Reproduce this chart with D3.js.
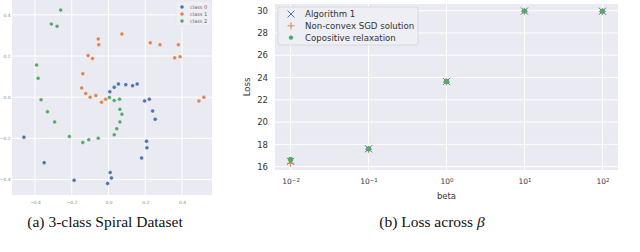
<!DOCTYPE html>
<html lang="en">
<head>
<meta charset="UTF-8">
<title>Spiral dataset and loss across beta</title>
<script src="https://d3js.org/d3.v7.min.js"></script>
<style>
    body { margin: 0; padding: 0; background: #fff; }
    svg { display: block; }
    .tick text { font-family: "DejaVu Sans", sans-serif; }
    .caption { font-family: "Liberation Serif", "Times New Roman", serif; font-size: 15.5px; fill: #111; }
</style>
</head>
<body>
<svg id="fig" width="640" height="252"></svg>
<script>
// ---- left panel: 3-class spiral dataset ----
const class0 = [
    [-0.46, -0.194], [-0.35, -0.318], [-0.187, -0.403], [-0.005, -0.419], [0.016, -0.392],
    [0.009, -0.366], [0.18, -0.295], [0.209, -0.246], [0.207, -0.214], [0.254, -0.107],
    [0.24, -0.067], [0.222, -0.01], [0.196, -0.018], [0.156, 0.064], [0.131, 0.056],
    [0.094, 0.061], [0.054, 0.064], [0.031, 0.048], [0.007, 0.026]
];
const class1 = [
    [0.073, 0.307], [-0.056, 0.283], [-0.053, 0.255], [-0.111, 0.202], [-0.087, 0.188],
    [-0.14, 0.114], [-0.146, 0.045], [-0.124, 0.018], [-0.1, 0.0], [-0.069, 0.008],
    [-0.038, -0.024], [-0.016, -0.01], [0.227, 0.264], [0.28, 0.255], [0.38, 0.255],
    [0.36, 0.191], [0.389, 0.196], [0.492, -0.019], [0.519, 0.0]
];
const class2 = [
    [-0.26, 0.423], [-0.311, 0.355], [-0.28, 0.344], [-0.391, 0.156], [-0.383, 0.092],
    [-0.367, -0.013], [-0.332, -0.071], [-0.293, -0.12], [-0.213, -0.191], [-0.14, -0.22],
    [-0.107, -0.207], [-0.056, -0.199], [0.031, -0.183], [0.045, -0.153], [0.062, -0.12],
    [0.073, -0.083], [0.062, -0.059], [0.06, -0.01], [0.031, -0.016], [0.005, -0.001]
];
const spiralTicks = [-0.4, -0.2, 0.0, 0.2, 0.4];
const classNames = ["class 0", "class 1", "class 2"];

// ---- right panel: loss across beta ----
const betas = [0.01, 0.1, 1, 10, 100];
const lossAlgo1 = [16.48, 17.6, 23.65, 29.97, 29.95];
const lossSGD = [16.3, 17.55, 23.6, 29.95, 29.93];
const lossCopos = [16.65, 17.6, 23.65, 29.97, 29.95];
const lossTicks = [16, 18, 20, 22, 24, 26, 28, 30];
const betaTicks = [-2, -1, 0, 1, 2];
const seriesNames = ["Algorithm 1", "Non-convex SGD solution", "Copositive relaxation"];

const colors = ["#4c72b0", "#dd8452", "#55a868"];
const bg = "#eaeaf2";

const svg = d3.select("#fig");

// ================= left panel =================
const L = { left: 12, right: 212, top: 0, bottom: 195 };
const xs = d3.scaleLinear().domain([-0.525, 0.563]).range([L.left, L.right]);
const ys = d3.scaleLinear().domain([-0.475, 0.472]).range([L.bottom, L.top]);

const gl = svg.append("g");
gl.append("rect")
    .attr("x", L.left).attr("y", L.top)
    .attr("width", L.right - L.left).attr("height", L.bottom - L.top)
    .attr("fill", bg);

// grid
gl.selectAll(".vg").data(spiralTicks).enter().append("line")
    .attr("x1", d => xs(d)).attr("x2", d => xs(d))
    .attr("y1", L.top).attr("y2", L.bottom)
    .attr("stroke", "#fff").attr("stroke-width", 1);
gl.selectAll(".hg").data(spiralTicks).enter().append("line")
    .attr("y1", d => ys(d)).attr("y2", d => ys(d))
    .attr("x1", L.left).attr("x2", L.right)
    .attr("stroke", "#fff").attr("stroke-width", 1);

// axes (tiny labels, no lines)
const xAxL = gl.append("g").attr("transform", `translate(0,${L.bottom})`)
    .call(d3.axisBottom(xs).tickValues(spiralTicks).tickSize(0).tickPadding(6).tickFormat(d3.format(".1f")));
const yAxL = gl.append("g").attr("transform", `translate(${L.left},0)`)
    .call(d3.axisLeft(ys).tickValues(spiralTicks).tickSize(0).tickPadding(1.5).tickFormat(d3.format(".1f")));
[xAxL, yAxL].forEach(a => {
    a.select(".domain").remove();
    a.selectAll("text").style("font-size", "4.4px").attr("fill", "#888");
});

// points
[class0, class1, class2].forEach((pts, i) => {
    gl.selectAll(".p" + i).data(pts).enter().append("circle")
        .attr("cx", d => xs(d[0]))
        .attr("cy", d => ys(d[1]))
        .attr("r", 2)
        .attr("fill", colors[i])
        .attr("stroke", "#fff").attr("stroke-width", 0.4);
});

// legend
const lgL = gl.append("g");
lgL.append("rect")
    .attr("x", 176).attr("y", 1).attr("width", 35).attr("height", 25).attr("rx", 1.5)
    .attr("fill", "#eeeef5").attr("stroke", "#e0e0e8").attr("stroke-width", 0.5);
classNames.forEach((name, i) => {
    lgL.append("circle").attr("cx", 182).attr("cy", 7 + i * 7).attr("r", 1.8).attr("fill", colors[i]);
    lgL.append("text").attr("x", 190).attr("y", 7 + i * 7).attr("dy", "0.35em")
        .style("font-family", "DejaVu Sans, sans-serif").style("font-size", "5px")
        .attr("fill", "#666").text(name);
});

svg.append("text").attr("class", "caption")
    .attr("x", 105).attr("y", 227).attr("text-anchor", "middle")
    .text("(a) 3-class Spiral Dataset");

// ================= right panel =================
const R = { left: 275, right: 618, top: 4, bottom: 170 };
const xr = d3.scaleLog().domain([Math.pow(10, -2.2), Math.pow(10, 2.2)]).range([R.left, R.right]);
const yr = d3.scaleLinear().domain([15.7, 30.6]).range([R.bottom, R.top]);

const gr = svg.append("g");
gr.append("rect")
    .attr("x", R.left).attr("y", R.top)
    .attr("width", R.right - R.left).attr("height", R.bottom - R.top)
    .attr("fill", bg);

gr.selectAll(".vg").data(betaTicks).enter().append("line")
    .attr("x1", d => xr(Math.pow(10, d))).attr("x2", d => xr(Math.pow(10, d)))
    .attr("y1", R.top).attr("y2", R.bottom)
    .attr("stroke", "#fff").attr("stroke-width", 1);
gr.selectAll(".hg").data(lossTicks).enter().append("line")
    .attr("y1", d => yr(d)).attr("y2", d => yr(d))
    .attr("x1", R.left).attr("x2", R.right)
    .attr("stroke", "#fff").attr("stroke-width", 1);

// y axis
const yAxR = gr.append("g").attr("transform", `translate(${R.left},0)`)
    .call(d3.axisLeft(yr).tickValues(lossTicks).tickSize(0).tickPadding(7).tickFormat(d3.format("d")));
yAxR.select(".domain").remove();
yAxR.selectAll("text").style("font-size", "8.5px").attr("fill", "#333");

// x axis with 10^n labels
const xAxR = gr.append("g").attr("transform", `translate(0,${R.bottom})`)
    .call(d3.axisBottom(xr).tickValues(betaTicks.map(d => Math.pow(10, d))).tickSize(0).tickPadding(9).tickFormat(""));
xAxR.select(".domain").remove();
xAxR.selectAll(".tick").each(function (d) {
    const t = d3.select(this).select("text").style("font-size", "7.5px").attr("fill", "#333");
    const e = Math.round(Math.log10(d));
    t.text("");
    t.append("tspan").text("10");
    t.append("tspan").attr("dy", "-0.45em").style("font-size", "5.5px").text(e < 0 ? "\u2212" + Math.abs(e) : e);
});

gr.append("text")
    .attr("x", (R.left + R.right) / 2).attr("y", 199).attr("text-anchor", "middle")
    .style("font-family", "DejaVu Sans, sans-serif").style("font-size", "8.5px").attr("fill", "#333")
    .text("beta");
gr.append("text")
    .attr("transform", `translate(250,${(R.top + R.bottom) / 2}) rotate(-90)`)
    .attr("text-anchor", "middle")
    .style("font-family", "DejaVu Sans, sans-serif").style("font-size", "8.5px").attr("fill", "#333")
    .text("Loss");

// markers
const xMark = (g, cx, cy, s, c) => {
    g.append("path").attr("d", `M${cx - s},${cy - s}L${cx + s},${cy + s}M${cx - s},${cy + s}L${cx + s},${cy - s}`)
        .attr("stroke", c).attr("stroke-width", 1).attr("fill", "none");
};
const plusMark = (g, cx, cy, s, c) => {
    g.append("path").attr("d", `M${cx - s},${cy}L${cx + s},${cy}M${cx},${cy - s}L${cx},${cy + s}`)
        .attr("stroke", c).attr("stroke-width", 1).attr("fill", "none");
};
betas.forEach((b, i) => xMark(gr, xr(b), yr(lossAlgo1[i]), 3.5, colors[0]));
betas.forEach((b, i) => plusMark(gr, xr(b), yr(lossSGD[i]), 3.5, colors[1]));
gr.selectAll(".cop").data(betas).enter().append("circle")
    .attr("cx", d => xr(d)).attr("cy", (d, i) => yr(lossCopos[i]))
    .attr("r", 2.6).attr("fill", colors[2]);

// legend
const lgR = gr.append("g");
lgR.append("rect")
    .attr("x", 278).attr("y", 7).attr("width", 140).attr("height", 38).attr("rx", 2)
    .attr("fill", "#eeeef5").attr("stroke", "#d4d4dc").attr("stroke-width", 0.8);
seriesNames.forEach((name, i) => {
    const cy = 14 + i * 11.8;
    if (i === 0) xMark(lgR, 291, cy, 3.5, colors[0]);
    if (i === 1) plusMark(lgR, 291, cy, 3.5, colors[1]);
    if (i === 2) lgR.append("circle").attr("cx", 291).attr("cy", cy).attr("r", 2.2).attr("fill", colors[2]);
    lgR.append("text").attr("x", 305).attr("y", cy).attr("dy", "0.35em")
        .style("font-family", "DejaVu Sans, sans-serif").style("font-size", "8.6px").attr("fill", "#333")
        .text(name);
});

const capB = svg.append("text").attr("class", "caption")
    .attr("x", 432).attr("y", 227).attr("text-anchor", "middle");
capB.append("tspan").text("(b) Loss across ");
capB.append("tspan").style("font-style", "italic").text("\u03B2");
</script>
</body>
</html>
